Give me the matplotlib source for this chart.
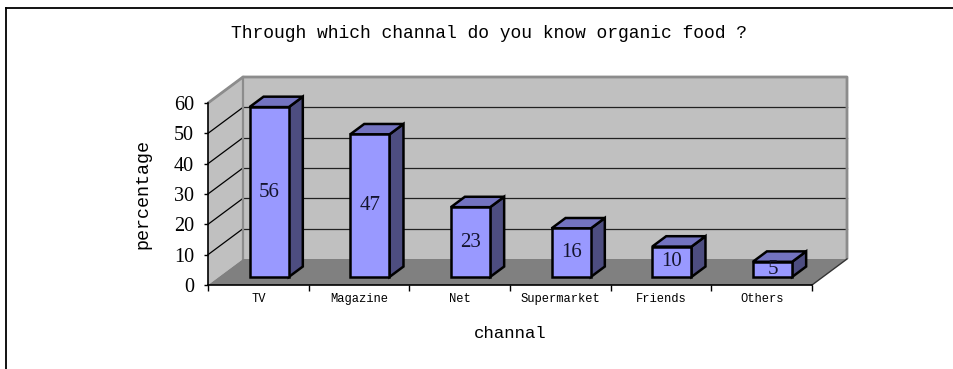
import matplotlib
matplotlib.use("Agg")
import matplotlib.pyplot as plt
from matplotlib.patches import Polygon
from matplotlib.lines import Line2D

channels = ["TV", "Magazine", "Net", "Supermarket", "Friends", "Others"]
percent = [56, 47, 23, 16, 10, 5]
yticks = [0, 10, 20, 30, 40, 50, 60]

MONO = "Liberation Mono"
SERIF = "Liberation Serif"

WALL = "#c0c0c0"
FLOOR = "#808080"
EDGE = "#8c8c8c"
FRONT = "#9999ff"
TOP = "#7373c0"
SIDE = "#4d4d80"

W, H = 954, 369
fig = plt.figure(figsize=(W / 100, H / 100), dpi=100)
fig.patch.set_facecolor("white")

# front plane of the 3d box: x in category units, y in percent
ax = fig.add_axes([208 / W, 84 / H, 604 / W, 182 / H])
ax.set_facecolor("none")
n = len(channels)
ymax = yticks[-1]
ax.set_xlim(0, n)
ax.set_ylim(0, ymax)

# depth offset of the back wall, in data units
DX = 35 / 604 * n
DY = 26 / 182 * ymax

# back wall
ax.add_patch(Polygon([(DX, DY), (n + DX, DY), (n + DX, ymax + DY), (DX, ymax + DY)],
                     closed=True, fc=WALL, ec="none", zorder=1, clip_on=False))
# left side wall
ax.add_patch(Polygon([(0, 0), (DX, DY), (DX, ymax + DY), (0, ymax)],
                     closed=True, fc=WALL, ec="none", zorder=1, clip_on=False))
# floor
ax.add_patch(Polygon([(0, 0), (n, 0), (n + DX, DY), (DX, DY)],
                     closed=True, fc=FLOOR, ec="none", zorder=2, clip_on=False))

# gridlines on the back wall and the slanted lines across the side wall
for v in yticks[1:-1]:
    ax.plot([DX, n + DX], [v + DY, v + DY], color="#222222", lw=0.9, zorder=1.5, clip_on=False)
for v in yticks[1:]:
    ax.plot([0, DX], [v, v + DY], color="black", lw=0.9, zorder=1.5, clip_on=False)

# wall outlines
ax.plot([0, DX, n + DX, n + DX], [ymax, ymax + DY, ymax + DY, DY],
        color=EDGE, lw=2.0, zorder=1.6, clip_on=False, solid_capstyle="butt")
ax.plot([DX, DX], [DY, ymax + DY], color=EDGE, lw=1.6, zorder=1.6, clip_on=False)
ax.plot([n, n + DX], [0, DY], color="#333333", lw=1.0, zorder=2.5, clip_on=False)

# 3d bars
bw = 0.39
f0, f1 = 0.31, 0.71
bx, by = (f1 - f0) * DX, (f1 - f0) * DY
for i, v in enumerate(percent):
    x0 = i + 0.5 - bw / 2 + f0 * DX
    x1 = x0 + bw
    y0 = f0 * DY
    y1 = y0 + v
    kw = dict(closed=True, ec="black", lw=1.8, joinstyle="miter", zorder=5, clip_on=False)
    ax.add_patch(Polygon([(x1, y0), (x1 + bx, y0 + by), (x1 + bx, y1 + by), (x1, y1)], fc=SIDE, **kw))
    ax.add_patch(Polygon([(x0, y1), (x1, y1), (x1 + bx, y1 + by), (x0 + bx, y1 + by)], fc=TOP, **kw))
    ax.add_patch(Polygon([(x0, y0), (x1, y0), (x1, y1), (x0, y1)], fc=FRONT, **kw))
    ax.text((x0 + x1) / 2, (y0 + y1) / 2, str(v), ha="center", va="center",
            family=SERIF, fontsize=15, color="#14142e", zorder=6)

# axes
for s in ("top", "right"):
    ax.spines[s].set_visible(False)
for s in ("left", "bottom"):
    ax.spines[s].set_color("black")
    ax.spines[s].set_linewidth(1.2)
    ax.spines[s].set_zorder(4)

ax.set_yticks(yticks)
ax.set_yticklabels([str(t) for t in yticks], family=SERIF, fontsize=14.5)
ax.tick_params(axis="y", length=3, width=1.0, pad=7, colors="black")

ax.set_xticks(range(n + 1))
ax.set_xticklabels([])
ax.set_xticks([i + 0.5 for i in range(n)], minor=True)
ax.set_xticklabels(channels, minor=True, family=MONO, fontsize=8.7)
ax.tick_params(axis="x", which="major", length=4, width=1.0, direction="out")
ax.tick_params(axis="x", which="minor", length=0, pad=6)

ax.text(0.5, -0.265, "channal", transform=ax.transAxes, ha="center", va="center",
        family=MONO, fontsize=12.5)
ax.text(-0.107, 0.5, "percentage", transform=ax.transAxes, ha="center", va="center",
        rotation=90, family=MONO, fontsize=13.2)

fig.text(489 / W, 1 - 33 / H, "Through which channal do you know organic food ?",
         ha="center", va="center", family=MONO, fontsize=13)

# chart area frame
fig.add_artist(Line2D([6 / W, 1], [1 - 7.5 / H, 1 - 7.5 / H], transform=fig.transFigure,
                      color="black", lw=1.3))
fig.add_artist(Line2D([6 / W, 6 / W], [0, 1 - 7.5 / H], transform=fig.transFigure,
                      color="black", lw=1.3))

fig.savefig("out.png", dpi=100, facecolor="white")
